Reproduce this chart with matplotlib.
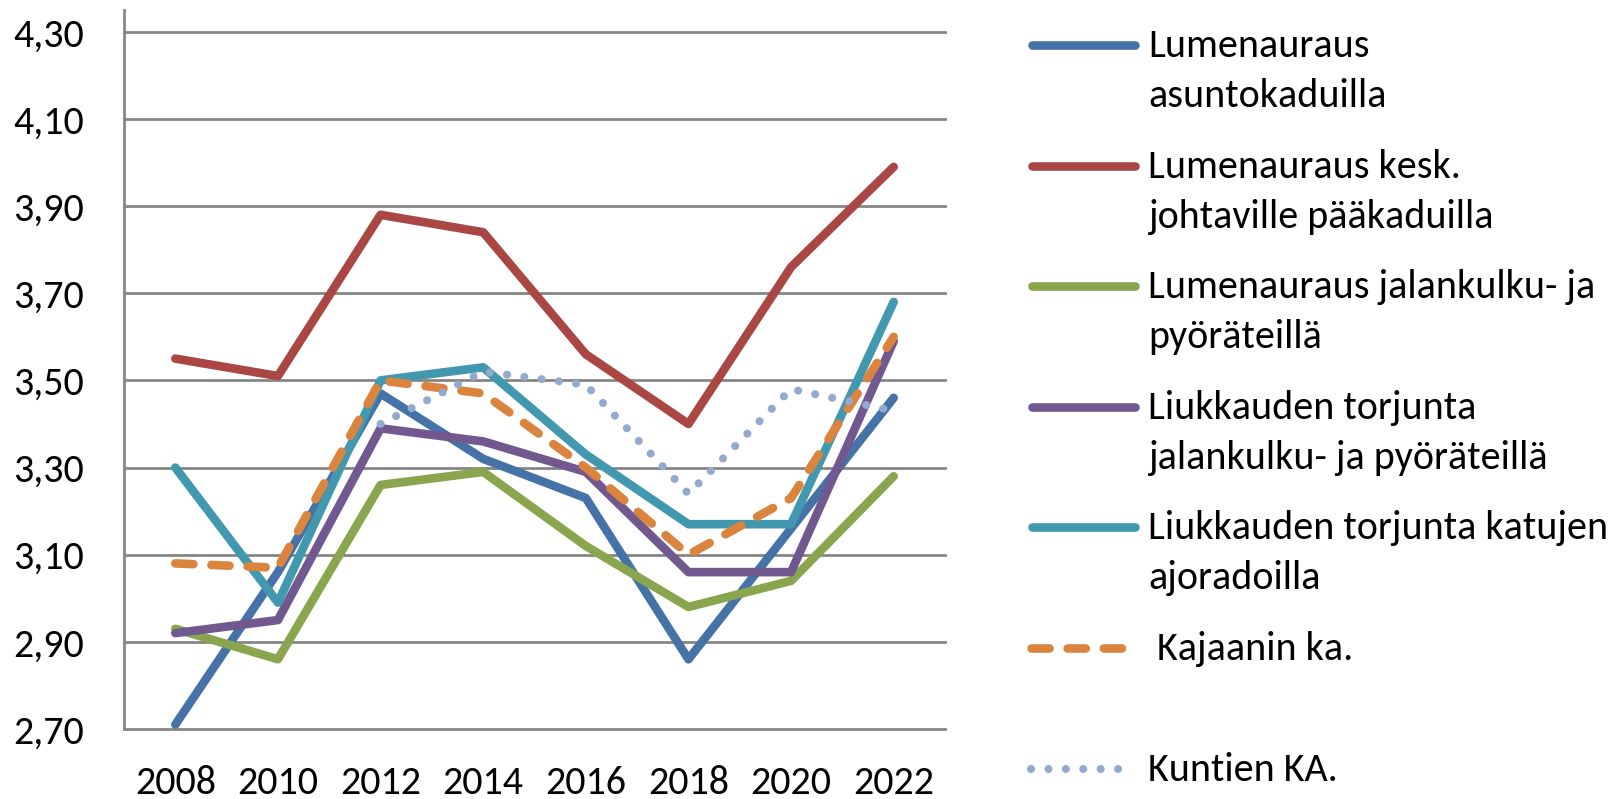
import numpy as np
import matplotlib
matplotlib.use("Agg")
import matplotlib.pyplot as plt
from matplotlib.lines import Line2D
from matplotlib import font_manager as fm

# ── data ──────────────────────────────────────────────────────────────────────
years = ["2008", "2010", "2012", "2014", "2016", "2018", "2020", "2022"]
asuntokadut   = [2.71, 3.06, 3.47, 3.32, 3.23, 2.86, 3.16, 3.46]
paakadut      = [3.55, 3.51, 3.88, 3.84, 3.56, 3.40, 3.76, 3.99]
jalankulku    = [2.93, 2.86, 3.26, 3.29, 3.12, 2.98, 3.04, 3.28]
liukkaus_jp   = [2.92, 2.95, 3.39, 3.36, 3.29, 3.06, 3.06, 3.59]
liukkaus_ajo  = [3.30, 2.99, 3.50, 3.53, 3.33, 3.17, 3.17, 3.68]
kajaani_ka    = [3.08, 3.07, 3.50, 3.47, 3.30, 3.10, 3.23, 3.60]
kunnat_ka     = [np.nan, np.nan, 3.40, 3.52, 3.49, 3.24, 3.48, 3.43]

y_ticks  = [2.70, 2.90, 3.10, 3.30, 3.50, 3.70, 3.90, 4.10, 4.30]
y_labels = ["2,70", "2,90", "3,10", "3,30", "3,50", "3,70", "3,90", "4,10", "4,30"]

labels = [
    ["Lumenauraus", "asuntokaduilla"],
    ["Lumenauraus kesk.", "johtaville pääkaduilla"],
    ["Lumenauraus jalankulku- ja", "pyöräteillä"],
    ["Liukkauden torjunta", "jalankulku- ja pyöräteillä"],
    ["Liukkauden torjunta katujen", "ajoradoilla"],
    [" Kajaanin ka."],
    ["Kuntien KA."],
]

# ── fonts: Calibri look-alike if present ──────────────────────────────────────
avail = {f.name for f in fm.fontManager.ttflist}
def pick(*cands):
    return next((c for c in cands if c in avail), "DejaVu Sans")

FONT = pick("Carlito", "Lato", "Liberation Sans")
SIZE = {"Carlito": 28.8, "Lato": 25}.get(FONT, 24)

# ── styles ────────────────────────────────────────────────────────────────────
LW = 6.2
styles = [
    dict(color="#4572A7", lw=LW),
    dict(color="#AA4643", lw=LW),
    dict(color="#89A54E", lw=LW),
    dict(color="#71588F", lw=LW),
    dict(color="#4198AF", lw=LW),
    dict(color="#DB843D", lw=LW, dashes=(2.1, 2.1)),
    dict(color="#93A9CF", lw=5.8, dashes=(0.01, 2.15)),
]
series = [asuntokadut, paakadut, jalankulku, liukkaus_jp, liukkaus_ajo,
          kajaani_ka, kunnat_ka]

W, H = 1619, 799
fig = plt.figure(figsize=(W / 100, H / 100), dpi=100)
ax = fig.add_axes([124 / W, 70 / H, (945 - 124) / W, (729 - 10) / H])

x = np.arange(len(years))
for vals, st in zip(series, styles):
    ax.plot(x, vals, solid_capstyle="round", dash_capstyle="round",
            solid_joinstyle="round", dash_joinstyle="round", **st)

ax.set_xlim(-0.5, len(years) - 0.5)
ax.set_ylim(2.70, 4.35)
ax.set_yticks(y_ticks)
ax.set_yticklabels(y_labels)
ax.set_xticks(x)
ax.set_xticklabels(years)

GRID = "#868686"
ax.grid(axis="y", color=GRID, lw=2.0)
ax.set_axisbelow(True)
for gl in ax.get_ygridlines():
    gl.set_clip_on(False)
for s in ["top", "right", "bottom"]:
    ax.spines[s].set_visible(False)
ax.spines["left"].set_color(GRID)
ax.spines["left"].set_linewidth(2.0)
ax.tick_params(axis="both", length=0, labelsize=SIZE, labelcolor="black")
ax.tick_params(axis="y", pad=29)
ax.tick_params(axis="x", pad=26)
for t in ax.get_xticklabels() + ax.get_yticklabels():
    t.set_fontfamily([FONT, "DejaVu Sans"])

# ── legend drawn by hand (handles line up with first text line) ──────────────
def fx(px): return px / W
def fy(py): return 1 - py / H

top, step = 45, 120.6
for i, (lab, st) in enumerate(zip(labels, styles)):
    yy = top + i * step
    if "dashes" in st:
        x0, x1 = 1031, 1124
    else:
        x0, x1 = 1032, 1135
    ln = Line2D([fx(x0), fx(x1)], [fy(yy), fy(yy)], transform=fig.transFigure,
                solid_capstyle="round", dash_capstyle="round", **st)
    fig.add_artist(ln)
    for j, line in enumerate(lab):
        fig.text(fx(1148), fy(yy + 12 + j * 50), line, fontsize=SIZE,
                 family=[FONT, "DejaVu Sans"], va="baseline", ha="left")

fig.savefig("out.png", dpi=100, facecolor="white")
